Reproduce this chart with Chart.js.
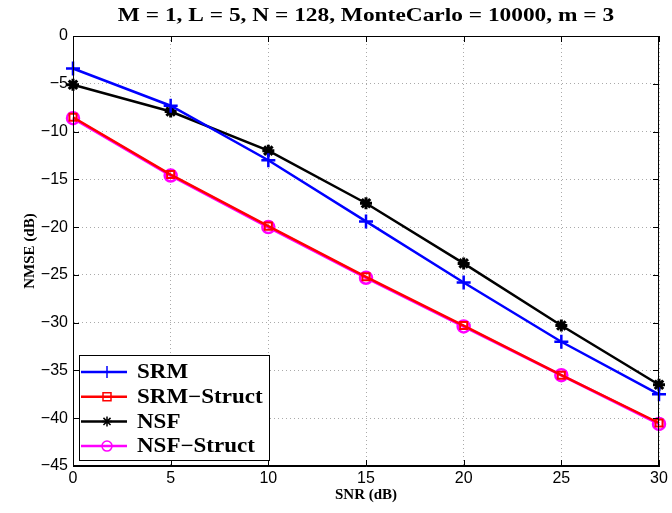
<!DOCTYPE html>
<html>
<head>
<meta charset="utf-8">
<script src="https://cdn.jsdelivr.net/npm/chart.js@4/dist/chart.umd.min.js"></script>
<style>
  html, body { margin: 0; padding: 0; background: #fff; }
  #wrap { width: 672px; height: 513px; }
</style>
</head>
<body>
<div id="wrap"><canvas id="myChart" width="672" height="513"></canvas></div>
<script>
// SNR values (dB)
let snr = [0, 5, 10, 15, 20, 25, 30];

// NMSE (dB) per method
let srm = [-3.4, -7.3, -13.0, -19.4, -25.8, -32.0, -37.5];
let srmStruct = [-8.5, -14.5, -19.9, -25.2, -30.3, -35.5, -40.5];
let nsf = [-5.1, -7.9, -12.0, -17.5, -23.8, -30.3, -36.5];
let nsfStruct = [-8.6, -14.6, -20.0, -25.3, -30.4, -35.5, -40.6];

let seriesNames = ['SRM', 'SRM\u2212Struct', 'NSF', 'NSF\u2212Struct'];
let chartTitle = 'M = 1, L = 5, N = 128, MonteCarlo = 10000, m = 3';

function toPoints(arr) {
  return arr.map((v, i) => ({ x: snr[i], y: v }));
}

// draw wide-ish text (the original figure's serif text is stretched)
function wideText(ctx, text, x, y, sx, align) {
  ctx.save();
  ctx.translate(x, y);
  ctx.scale(sx, 1);
  ctx.textAlign = align;
  ctx.fillText(text, 0, 0);
  ctx.restore();
}

// box around the axes, ticks pointing inward, title and legend
const matlabBox = {
  id: 'matlabBox',
  afterDraw(chart) {
    const ctx = chart.ctx;
    const a = chart.chartArea;
    const xs = chart.scales.x;
    const ys = chart.scales.y;
    ctx.save();
    ctx.strokeStyle = '#000';
    ctx.lineWidth = 1;
    ctx.strokeRect(a.left + 0.5, a.top + 0.5, a.right - a.left - 1, a.bottom - a.top - 1);
    ctx.beginPath();
    xs.ticks.forEach(t => {
      let px = Math.round(xs.getPixelForValue(t.value)) + 0.5;
      ctx.moveTo(px, a.bottom); ctx.lineTo(px, a.bottom - 6);
      ctx.moveTo(px, a.top); ctx.lineTo(px, a.top + 6);
    });
    ys.ticks.forEach(t => {
      let py = Math.round(ys.getPixelForValue(t.value)) + 0.5;
      ctx.moveTo(a.left, py); ctx.lineTo(a.left + 6, py);
      ctx.moveTo(a.right, py); ctx.lineTo(a.right - 6, py);
    });
    ctx.stroke();

    // title
    ctx.fillStyle = '#000';
    ctx.textBaseline = 'middle';
    ctx.font = 'bold 19px "Liberation Serif", serif';
    wideText(ctx, chartTitle, (a.left + a.right) / 2, 16, 1.23, 'center');

    // legend
    const lx = 79, ly = 355, lw = 190, lh = 105;
    ctx.fillStyle = '#fff';
    ctx.fillRect(lx, ly, lw, lh);
    ctx.strokeRect(lx + 0.5, ly + 0.5, lw, lh);
    ctx.font = 'bold 20px "Liberation Serif", serif';
    chart.data.datasets.forEach((ds, i) => {
      const cy = ly + 17 + i * 24.7;
      ctx.strokeStyle = ds.borderColor;
      ctx.lineWidth = 2.5;
      ctx.beginPath();
      ctx.moveTo(lx + 2, cy); ctx.lineTo(lx + 48, cy);
      ctx.stroke();
      const m = lx + 28;
      ctx.lineWidth = 1.5;
      ctx.beginPath();
      if (ds.pointStyle === 'cross') {
        ctx.moveTo(m - 6, cy); ctx.lineTo(m + 6, cy);
        ctx.moveTo(m, cy - 6); ctx.lineTo(m, cy + 6);
      } else if (ds.pointStyle === 'rect') {
        ctx.rect(m - 4, cy - 4, 8, 8);
      } else if (ds.pointStyle === 'star') {
        for (let k = 0; k < 4; k++) {
          const ang = k * Math.PI / 4;
          ctx.moveTo(m - 5 * Math.cos(ang), cy - 5 * Math.sin(ang));
          ctx.lineTo(m + 5 * Math.cos(ang), cy + 5 * Math.sin(ang));
        }
      } else {
        ctx.arc(m, cy, 5, 0, Math.PI * 2);
      }
      ctx.stroke();
      ctx.fillStyle = '#000';
      wideText(ctx, ds.label, lx + 58, cy + 1, 1.15, 'left');
    });
    ctx.restore();
  }
};

const minus = v => String(v).replace('-', '\u2212');

var chart = document.getElementById('myChart').getContext('2d');
var myChart = new Chart(chart, {
  type: 'line',
  data: {
    datasets: [
      {
        label: seriesNames[0],
        data: toPoints(srm),
        borderColor: '#0000ff',
        backgroundColor: '#0000ff',
        pointStyle: 'cross',
        pointRadius: 7,
        pointBorderWidth: 2.5,
        borderWidth: 2.5,
        clip: false
      },
      {
        label: seriesNames[1],
        data: toPoints(srmStruct),
        borderColor: '#ff0000',
        backgroundColor: 'rgba(0,0,0,0)',
        pointStyle: 'rect',
        pointRadius: 5,
        pointBorderWidth: 2,
        borderWidth: 2.5,
        clip: false
      },
      {
        label: seriesNames[2],
        data: toPoints(nsf),
        borderColor: '#000000',
        backgroundColor: '#000000',
        pointStyle: 'star',
        pointRadius: 6,
        pointBorderWidth: 3,
        borderWidth: 2.5,
        clip: false
      },
      {
        label: seriesNames[3],
        data: toPoints(nsfStruct),
        borderColor: '#ff00ff',
        backgroundColor: 'rgba(0,0,0,0)',
        pointStyle: 'circle',
        pointRadius: 6,
        pointBorderWidth: 2.5,
        borderWidth: 3,
        clip: false
      }
    ]
  },
  options: {
    responsive: false,
    animation: false,
    layout: { padding: { left: 0, right: 13, top: 36, bottom: 0 } },
    plugins: {
      legend: { display: false },
      tooltip: { enabled: false },
      title: { display: false }
    },
    scales: {
      x: {
        type: 'linear',
        min: 0,
        max: 30,
        ticks: { stepSize: 5, color: '#000', font: { family: '"Liberation Sans", sans-serif', size: 16 }, padding: 3, maxRotation: 0 },
        grid: { color: '#aaa', drawTicks: false, lineWidth: 1 },
        border: { display: true, color: '#000', dash: [1, 3] },
        title: {
          display: true,
          text: 'SNR (dB)',
          color: '#000',
          font: { family: '"Liberation Serif", serif', size: 15, weight: 'bold' },
          padding: { top: 0, bottom: 9 }
        },
        afterFit: s => { s.height = 47; }
      },
      y: {
        type: 'linear',
        min: -45,
        max: 0,
        ticks: { stepSize: 5, color: '#000', font: { family: '"Liberation Sans", sans-serif', size: 16 }, padding: 5, callback: v => minus(v) },
        grid: { color: '#aaa', drawTicks: false, lineWidth: 1 },
        border: { display: true, color: '#000', dash: [1, 3] },
        title: {
          display: true,
          text: 'NMSE (dB)',
          color: '#000',
          font: { family: '"Liberation Serif", serif', size: 15, weight: 'bold' },
          padding: { top: 21, bottom: 0 }
        },
        afterFit: s => { s.width = 73; }
      }
    }
  },
  plugins: [matlabBox]
});
</script>
</body>
</html>
